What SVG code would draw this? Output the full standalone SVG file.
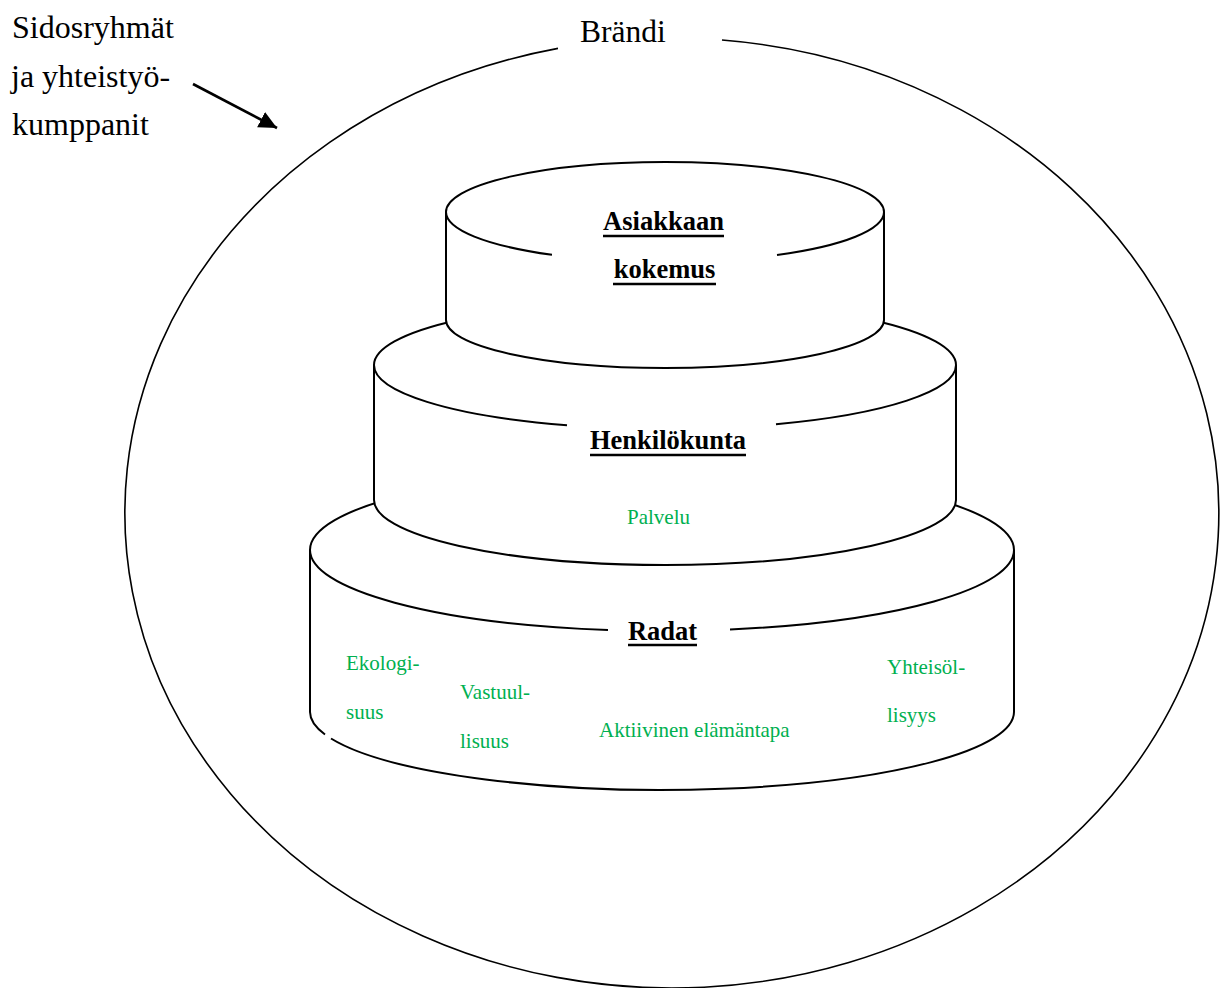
<svg xmlns="http://www.w3.org/2000/svg" width="1227" height="988" viewBox="0 0 1227 988">
  <style>
    .line { fill: none; stroke: #000; stroke-width: 2; }
    .thin { fill: none; stroke: #000; stroke-width: 1.6; }
    .body { fill: #fff; stroke: none; }
    .plain { font-family: "Liberation Serif", "Times New Roman", serif; font-size: 31.5px; fill: #000; }
    .side { font-size: 32px; }
    .tier { font-family: "Liberation Serif", "Times New Roman", serif; font-size: 26.5px; font-weight: bold; fill: #000; text-anchor: middle; }
    .ul { stroke: #000; stroke-width: 2.6; }
    .value { font-family: "Liberation Serif", "Times New Roman", serif; font-size: 21px; fill: #00B050; }
  </style>
  <defs>
    <marker id="arrowhead" markerUnits="userSpaceOnUse" markerWidth="22" markerHeight="20" refX="18" refY="8.5" orient="auto">
      <path d="M0,0 L18,8.5 L0,17 Z" fill="#000"/>
    </marker>
  </defs>
  <rect width="1227" height="988" fill="#fff"/>

  <!-- Brand boundary: large ellipse, open at the top for its label -->
  <g id="brand">
    <path class="thin" d="M 722 40 A 547 475 0 1 1 558 48.4"/>
    <text class="plain" x="580" y="41.5">Brändi</text>
  </g>

  <!-- Stakeholders label -->
  <g id="stakeholders">
    <text class="plain side" x="12" y="38">Sidosryhmät</text>
    <text class="plain side" x="11" y="86.5">ja yhteistyö-</text>
    <text class="plain side" x="12" y="135">kumppanit</text>
  </g>

  <g id="connectors">
    <line x1="193" y1="84" x2="277" y2="128" stroke="#000" stroke-width="2.6" marker-end="url(#arrowhead)"/>
  </g>

  <!-- Bottom tier -->
  <g id="tier-tracks">
    <path class="body" d="M 310 550 A 352 81 0 0 1 1014 550 L 1014 712 A 352 78 0 0 1 310 712 Z"/>
    <path class="line" d="M 325 734.5 A 352 78 0 0 1 310 712 L 310 550 A 352 81 0 0 1 1014 550 L 1014 712 A 352 78 0 0 1 331 738.5"/>
    <path class="line" d="M 310 550 A 352 81 0 0 0 608 630 M 730 629.5 A 352 81 0 0 0 1014 550"/>
    <text class="tier" x="662.5" y="640">Radat</text>
    <line class="ul" x1="628" y1="645" x2="697" y2="645"/>
    <text class="value" x="346" y="670">Ekologi-</text>
    <text class="value" x="346" y="719">suus</text>
    <text class="value" x="460" y="699">Vastuul-</text>
    <text class="value" x="460" y="748">lisuus</text>
    <text class="value" x="599" y="737">Aktiivinen elämäntapa</text>
    <text class="value" x="887" y="674">Yhteisöl-</text>
    <text class="value" x="887" y="722">lisyys</text>
  </g>

  <!-- Middle tier -->
  <g id="tier-staff">
    <path class="body" d="M 374 365 A 291 64 0 0 1 956 365 L 956 500 A 291 65 0 0 1 374 500 Z"/>
    <path class="line" d="M 374 365 A 291 64 0 0 1 956 365 L 956 500 A 291 65 0 0 1 374 500 Z"/>
    <path class="line" d="M 374 365 A 291 64 0 0 0 567 425.3 M 776 424.2 A 291 64 0 0 0 956 365"/>
    <text class="tier" x="668" y="449">Henkilökunta</text>
    <line class="ul" x1="590" y1="455" x2="746" y2="455"/>
    <text class="value" x="627" y="524">Palvelu</text>
  </g>

  <!-- Top tier -->
  <g id="tier-experience">
    <path class="body" d="M 446 212 A 219 50 0 0 1 884 212 L 884 320 A 219 48 0 0 1 446 320 Z"/>
    <path class="line" d="M 446 212 A 219 50 0 0 1 884 212 L 884 320 A 219 48 0 0 1 446 320 Z"/>
    <path class="line" d="M 446 212 A 219 50 0 0 0 552 254.8 M 777 255 A 219 50 0 0 0 884 212"/>
    <text class="tier" x="663.5" y="230">Asiakkaan</text>
    <line class="ul" x1="603" y1="236" x2="724" y2="236"/>
    <text class="tier" x="664.5" y="278">kokemus</text>
    <line class="ul" x1="613" y1="284" x2="716" y2="284"/>
  </g>
</svg>
